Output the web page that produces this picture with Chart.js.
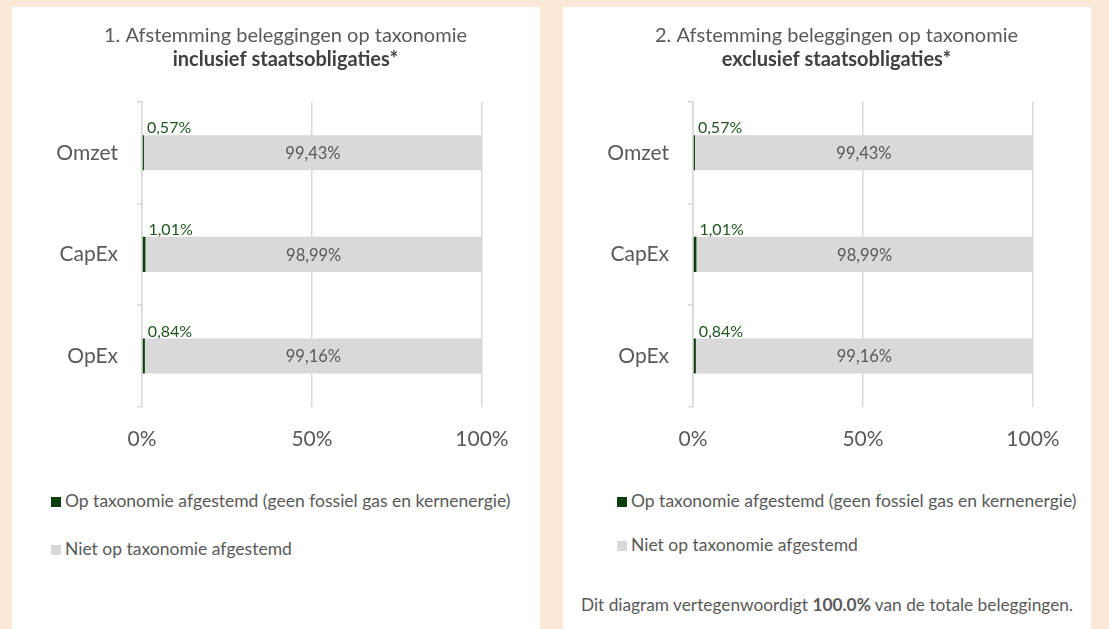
<!DOCTYPE html>
<html>
<head>
<meta charset="utf-8">
<script src="https://cdn.jsdelivr.net/npm/chart.js@4.4.1/dist/chart.umd.min.js"></script>
<style>
  body { margin: 0; background: #fbe7d5; width: 1109px; height: 629px; overflow: hidden; font-family: Lato, "Open Sans", sans-serif; color: #595959; }
  .panel { position: absolute; top: 7px; width: 528px; height: 640px; background: #fff; }
  .box { position: absolute; left: 0; top: 0; width: 528px; height: 481px; }
  .legend { position: absolute; font-size: 17.5px; }
  .legend div { position: absolute; white-space: nowrap; }
  .legend span { display: inline-block; width: 10px; height: 10px; margin-right: 4px; vertical-align: 0px; }
  .note { position: absolute; left: 0; width: 528px; text-align: center; font-size: 17.3px; top: 587px; }
</style>
</head>
<body>
<div class="panel" style="left:12px">
  <div class="box"><canvas id="incl"></canvas></div>
  <div class="legend" id="legIncl" style="left:39px; top:483px"></div>
</div>
<div class="panel" style="left:563px">
  <div class="box"><canvas id="excl"></canvas></div>
  <div class="legend" id="legExcl" style="left:54px; top:483px"></div>
  <div class="note">Dit diagram vertegenwoordigt <b>100.0%</b> van de totale beleggingen.</div>
</div>
<script>
var categories = ["Omzet", "CapEx", "OpEx"];
var seriesNames = ["Op taxonomie afgestemd (geen fossiel gas en kernenergie)", "Niet op taxonomie afgestemd"];
var alignedIncl = [0.57, 1.01, 0.84];
var notAlignedIncl = [99.43, 98.99, 99.16];
var alignedExcl = [0.57, 1.01, 0.84];
var notAlignedExcl = [99.43, 98.99, 99.16];
var xTicks = [0, 50, 100];

var green = "#0c3f0c";
var grey = "#d9d9d9";
var textGrey = "#595959";

Chart.defaults.font.family = "Lato, 'Open Sans', sans-serif";
Chart.defaults.color = textGrey;

function pct(v) {
    return v.toFixed(2).replace(".", ",") + "%";
}

// data labels: green one above the thin bar, grey one in the middle
var barLabels = {
    id: "barLabels",
    afterDatasetsDraw: function(chart) {
        var ctx = chart.ctx;
        ctx.save();
        chart.data.datasets.forEach(function(ds, i) {
            var meta = chart.getDatasetMeta(i);
            meta.data.forEach(function(bar, j) {
                var v = ds.data[j];
                if (i == 0) {
                    ctx.font = "16px Lato";
                    ctx.fillStyle = "#1d561d";
                    ctx.textAlign = "left";
                    ctx.textBaseline = "bottom";
                    ctx.fillText(pct(v), bar.x + 3, bar.y - bar.height / 2 + 1);
                } else {
                    ctx.font = "16.5px Lato";
                    ctx.fillStyle = textGrey;
                    ctx.textAlign = "center";
                    ctx.textBaseline = "middle";
                    ctx.fillText(pct(v), (bar.x + bar.base) / 2, bar.y + 1);
                }
            });
        });
        ctx.restore();
    }
};

function makeChart(id, title, subtitle, aligned, notAligned) {
    return new Chart(id, {
        type: "bar",
        data: {
            labels: categories,
            datasets: [
                { label: seriesNames[0], data: aligned, backgroundColor: green, barPercentage: 0.345, categoryPercentage: 1 },
                { label: seriesNames[1], data: notAligned, backgroundColor: grey, barPercentage: 0.345, categoryPercentage: 1 }
            ]
        },
        options: {
            indexAxis: "y",
            responsive: true,
            maintainAspectRatio: false,
            animation: false,
            layout: { padding: { left: 19, right: 0, top: 0, bottom: 16 } },
            plugins: {
                legend: { display: false },
                tooltip: { enabled: false },
                title: {
                    display: true, text: title, color: textGrey,
                    font: { size: 20, weight: "normal" },
                    padding: { top: 17, bottom: 0 }
                },
                subtitle: {
                    display: true, text: subtitle, color: "#404040",
                    font: { size: 20, weight: "bold" },
                    padding: { top: 0, bottom: 30 }
                }
            },
            scales: {
                x: {
                    stacked: true,
                    min: 0, max: 100,
                    afterBuildTicks: function(s) { s.ticks = xTicks.map(function(v) { return { value: v }; }); },
                    ticks: { padding: 20, color: textGrey, font: { size: 21 }, callback: function(v) { return v + "%"; } },
                    grid: { color: grey, lineWidth: 1.5, drawTicks: false },
                    border: { display: false }
                },
                y: {
                    stacked: true,
                    afterFit: function(s) { s.width = 111; },
                    ticks: { padding: 19, color: textGrey, font: { size: 21 } },
                    grid: { color: grey, lineWidth: 1.5, drawOnChartArea: false, drawTicks: true, tickLength: 5 },
                    border: { color: grey, width: 1.5 }
                },
                yR: {
                    type: "linear", axis: "y", position: "right",
                    min: 0, max: 1,
                    afterFit: function(s) { s.width = 58; },
                    ticks: { display: false },
                    grid: { display: false },
                    border: { display: false }
                }
            }
        },
        plugins: [barLabels]
    });
}

function makeLegend(elId, chart, gap) {
    var el = document.getElementById(elId);
    chart.data.datasets.forEach(function(ds, i) {
        var d = document.createElement("div");
        d.style.top = (i * gap) + "px";
        d.innerHTML = '<span style="background:' + ds.backgroundColor + '"></span>' + ds.label;
        el.appendChild(d);
    });
}

var c1 = makeChart("incl", "1. Afstemming beleggingen op taxonomie", "inclusief staatsobligaties*", alignedIncl, notAlignedIncl);
var c2 = makeChart("excl", "2. Afstemming beleggingen op taxonomie", "exclusief staatsobligaties*", alignedExcl, notAlignedExcl);
makeLegend("legIncl", c1, 48);
makeLegend("legExcl", c2, 44);
</script>
</body>
</html>
